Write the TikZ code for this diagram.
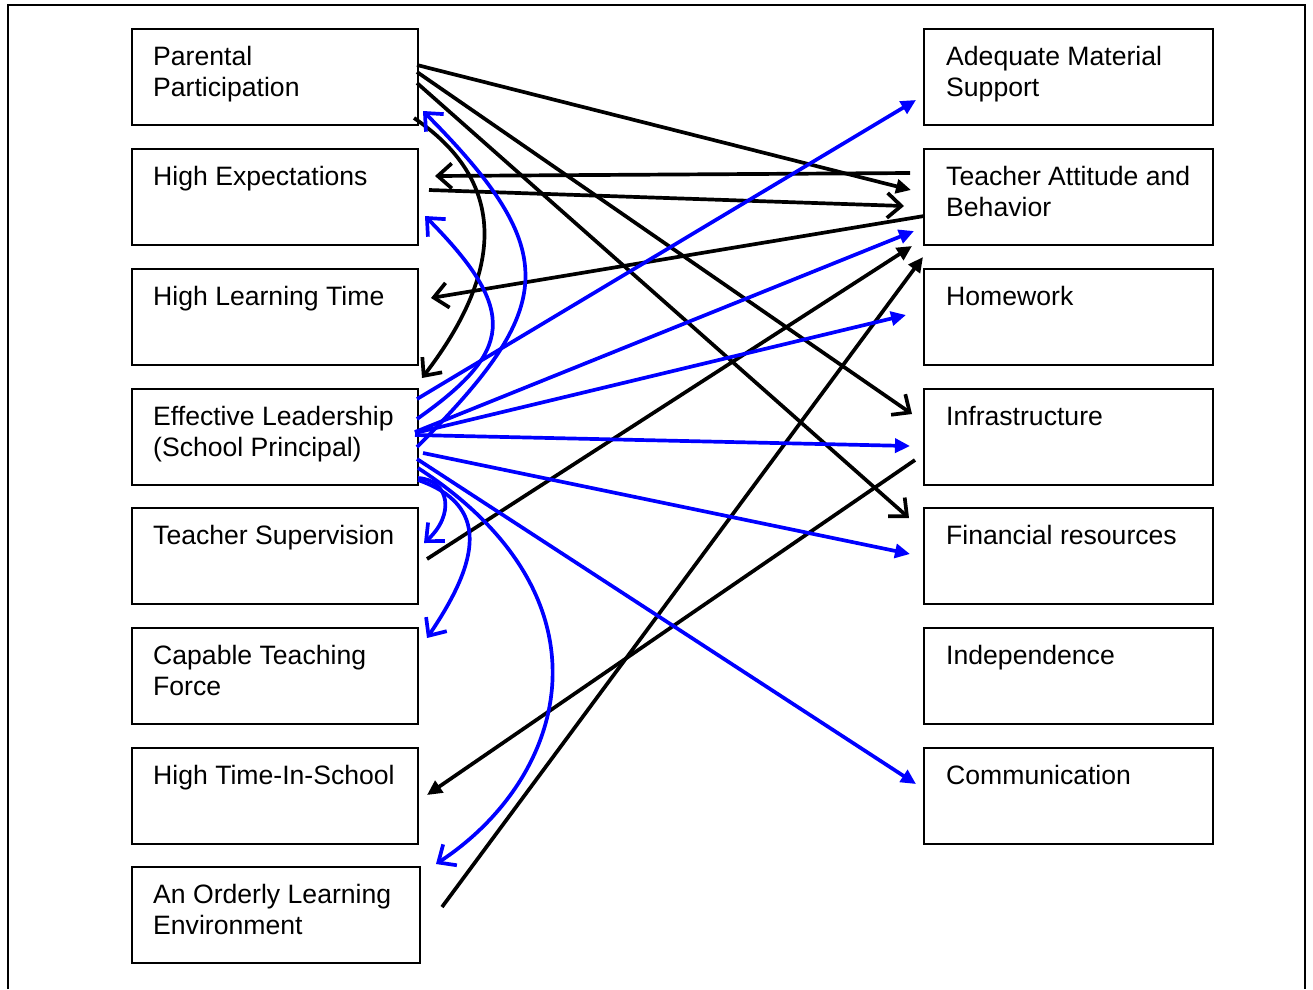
\documentclass[tikz,border=0pt]{standalone}
\usepackage{fontspec}
\setmainfont{Liberation Sans}
\usetikzlibrary{arrows.meta,calc}
\begin{document}
\begin{tikzpicture}[x=1pt,y=-1pt,
  box/.style={draw, line width=1.5pt, minimum width=286pt, minimum height=96pt, inner sep=0pt},
  rbox/.style={box, minimum width=289pt},
  txt/.style={anchor=base west, inner sep=0pt, font=\fontsize{26.6}{30.6}\selectfont},
  blk/.style={line width=3.7pt, black},
  blu/.style={line width=3.7pt, blue},
  fa/.style={-{Triangle[length=15pt,width=14pt]}},
  oa/.style={-{Straight Barb[length=14pt,width=25pt]}}
]
\useasboundingbox (0,0) rectangle (1313,989);
\draw[line width=2pt] (8,989) -- (8,5) -- (1305,5) -- (1305,989);

% left boxes
\node[box] (pp) at (275,77) {};
\node[box] (he) at (275,197) {};
\node[box] (hl) at (275,317) {};
\node[box] (el) at (275,437) {};
\node[box] (ts) at (275,556) {};
\node[box] (ct) at (275,676) {};
\node[box] (ht) at (275,796) {};
\node[box, minimum width=288pt] (ol) at (276,915) {};
% right boxes
\node[rbox] (am) at (1068.5,77) {};
\node[rbox] (ta) at (1068.5,197) {};
\node[rbox] (hw) at (1068.5,317) {};
\node[rbox] (in) at (1068.5,437) {};
\node[rbox] (fr) at (1068.5,556) {};
\node[rbox] (id) at (1068.5,676) {};
\node[rbox] (cm) at (1068.5,796) {};

% texts
\node[txt] (t1) at (153,65) {Parental};
\node[txt] (t1b) at (153,96) {Participation};
\node[txt] (t2) at (153,185) {High Expectations};
\node[txt] (t3) at (153,305) {High Learning Time};
\node[txt] (t4) at (153,425) {Effective Leadership};
\node[txt] (t4b) at (153,456) {(School Principal)};
\node[txt] (t5) at (153,544) {Teacher Supervision};
\node[txt] (t6) at (153,664) {Capable Teaching};
\node[txt] (t6b) at (153,695) {Force};
\node[txt] (t7) at (153,784) {High Time-In-School};
\node[txt] (t8) at (153,903) {An Orderly Learning};
\node[txt] (t8b) at (153,934) {Environment};
\node[txt] (r1) at (946,65) {Adequate Material};
\node[txt] (r1b) at (946,96) {Support};
\node[txt] (r2) at (946,185) {Teacher Attitude and};
\node[txt] (r2b) at (946,216) {Behavior};
\node[txt] (r3) at (946,305) {Homework};
\node[txt] (r4) at (946,425) {Infrastructure};
\node[txt] (r5) at (946,544) {Financial resources};
\node[txt] (r6) at (946,664) {Independence};
\node[txt] (r7) at (946,784) {Communication};

% connector end points
\coordinate (pp1) at (417,65);
\coordinate (pp2) at (417,72);
\coordinate (pp3) at (417,83);
\coordinate (pp4) at (414,118);
\coordinate (ta1) at (911,190);
\coordinate (in1) at (912,414);
\coordinate (fr1) at (909,518);
\coordinate (el1) at (422,378);
\coordinate (ta2) at (910,173);
\coordinate (he1) at (435,176);
\coordinate (he2) at (429,190);
\coordinate (ta3) at (904,206);
\coordinate (ta4) at (924,216);
\coordinate (hl1) at (431,298);
\coordinate (ts1) at (427,559);
\coordinate (ta5) at (912,246);
\coordinate (ol1) at (442,907);
\coordinate (ta6) at (923,257);
\coordinate (in2) at (915,460);
\coordinate (ht1) at (427,795);

\coordinate (e1) at (417,399);
\coordinate (am1) at (916,100);
\coordinate (e2) at (415,432);
\coordinate (ta7) at (914,231);
\coordinate (e3) at (415,433);
\coordinate (hw1) at (906,315);
\coordinate (e4) at (415,435);
\coordinate (in3) at (910,446);
\coordinate (e5) at (423,453);
\coordinate (fr2) at (910,554);
\coordinate (e6) at (417,459);
\coordinate (cm1) at (916,784);
\coordinate (e7) at (417,447);
\coordinate (pp5) at (423,111);
\coordinate (e8) at (417,419);
\coordinate (he3) at (425,216);
\coordinate (e9) at (418,478);
\coordinate (ts2) at (424,543);
\coordinate (e10) at (418,480);
\coordinate (ct1) at (427,638);
\coordinate (e11) at (418,468);
\coordinate (ol2) at (436,864);

% black connectors
\draw[blk, fa] (pp1) -- (ta1);
\draw[blk, oa] (pp2) -- (in1);
\draw[blk, oa] (pp3) -- (fr1);
\draw[blk, oa] (pp4) .. controls (520,190) and (492,287) .. (el1);
\draw[blk, oa] (ta2) -- (he1);
\draw[blk, oa] (he2) -- (ta3);
\draw[blk, oa] (ta4) -- (hl1);
\draw[blk, fa] (ts1) -- (ta5);
\draw[blk, fa] (ol1) -- (ta6);
\draw[blk, fa] (in2) -- (ht1);

% blue connectors
\draw[blu, fa] (e1) -- (am1);
\draw[blu, fa] (e2) -- (ta7);
\draw[blu, fa] (e3) -- (hw1);
\draw[blu, fa] (e4) -- (in3);
\draw[blu, fa] (e5) -- (fr2);
\draw[blu, fa] (e6) -- (cm1);
\draw[blu, oa] (e7) .. controls (557,307) and (563,252) .. (pp5);
\draw[blu, oa] (e8) .. controls (512,352) and (520,312) .. (he3);
\draw[blu, oa] (e9) .. controls (450,480) and (455,515) .. (ts2);
\draw[blu, oa] (e10) .. controls (490,505) and (480,560) .. (ct1);
\draw[blu, oa] (e11) .. controls (620,599) and (567,778) .. (ol2);
\end{tikzpicture}
\end{document}
